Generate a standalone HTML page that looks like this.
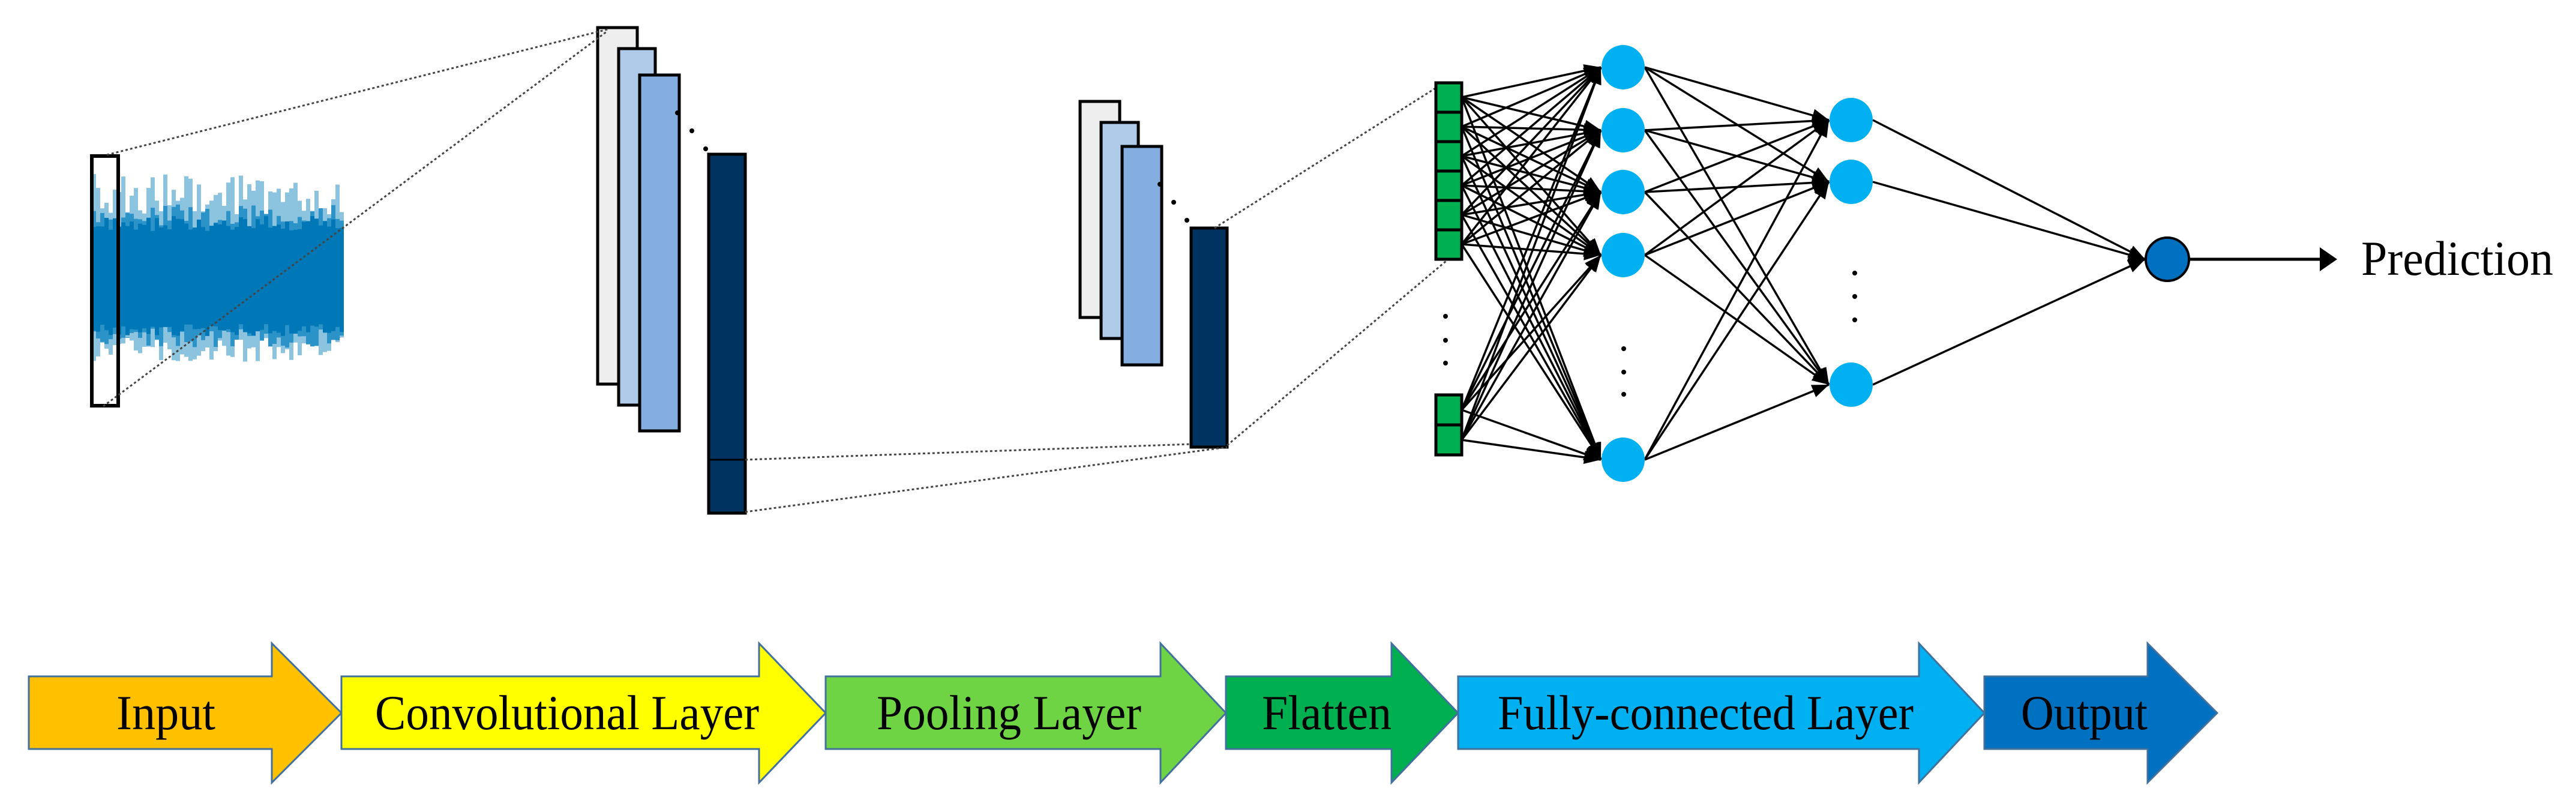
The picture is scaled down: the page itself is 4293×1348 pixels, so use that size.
<!DOCTYPE html>
<html><head><meta charset="utf-8"><style>
html,body{margin:0;padding:0;background:#fff;}
svg{display:block;}
text{font-family:"Liberation Serif",serif;}
</style></head><body>
<svg id="s" width="4293" height="1348" viewBox="0 0 4293 1348" xmlns="http://www.w3.org/2000/svg">
<rect x="153" y="260" width="44" height="416" fill="#fff"/>
<g id="sig"></g>
<rect x="153" y="260" width="44" height="416" fill="none" stroke="#000" stroke-width="6"/>
<rect x="996" y="46" width="66" height="594" fill="#eeeeee" stroke="#000" stroke-width="5"/>
<rect x="1031" y="81" width="61" height="594" fill="#b0cbea" stroke="#000" stroke-width="5"/>
<rect x="1066" y="125" width="66" height="593" fill="#84aedf" stroke="#000" stroke-width="5"/>
<circle cx="1129" cy="188" r="4"/><circle cx="1153" cy="218" r="4"/><circle cx="1176" cy="248" r="4"/>
<rect x="1181" y="257" width="61" height="598" fill="#003360" stroke="#000" stroke-width="5"/>
<line x1="1181" y1="766" x2="1242" y2="766" stroke="#000" stroke-width="3"/>
<rect x="1800" y="169" width="66" height="360" fill="#eeeeee" stroke="#000" stroke-width="5"/>
<rect x="1835" y="204" width="62" height="360" fill="#b0cbea" stroke="#000" stroke-width="5"/>
<rect x="1870" y="244" width="66" height="364" fill="#84aedf" stroke="#000" stroke-width="5"/>
<circle cx="1933" cy="307" r="4"/><circle cx="1956" cy="337" r="4"/><circle cx="1978" cy="367" r="4"/>
<rect x="1985" y="380" width="60" height="365" fill="#003360" stroke="#000" stroke-width="5"/>
<g stroke="#444" stroke-width="3" stroke-dasharray="4 4" fill="none">
<line x1="178" y1="258" x2="1016" y2="48"/>
<line x1="172" y1="677" x2="1012" y2="52"/>
<line x1="1242" y1="766" x2="1985" y2="740"/>
<line x1="1242" y1="853" x2="2045" y2="745"/>
<line x1="2024" y1="380" x2="2400" y2="142"/>
<line x1="2045" y1="742" x2="2410" y2="435"/>
</g>
<g id="flat" fill="#00b050" stroke="#000" stroke-width="5"></g>
<g fill="#000">
<circle cx="2409" cy="527" r="4"/><circle cx="2409" cy="567" r="4"/><circle cx="2409" cy="605" r="4"/>
<circle cx="2706" cy="581" r="4"/><circle cx="2706" cy="620" r="4"/><circle cx="2706" cy="657" r="4"/>
<circle cx="3091" cy="455" r="4"/><circle cx="3091" cy="494" r="4"/><circle cx="3091" cy="533" r="4"/>
</g>
<g id="conn" stroke="#000" stroke-width="3.5"></g>
<g id="heads" fill="#000"></g>
<g id="nodes" fill="#00b0f0"></g>
<ellipse cx="3612" cy="432" rx="36" ry="36" fill="#0070c0" stroke="#000" stroke-width="4"/>
<line x1="3648" y1="432" x2="3870" y2="432" stroke="#000" stroke-width="5"/>
<polygon points="3866,412 3895,432 3866,452" fill="#000"/>
<text x="3935" y="458" font-size="82" textLength="320" lengthAdjust="spacingAndGlyphs">Prediction</text>
<g id="arrows" stroke="#41719c" stroke-width="3"></g>
</svg>
<script>
var NS="http://www.w3.org/2000/svg";
function el(p,t,a){var e=document.createElementNS(NS,t);for(var k in a)e.setAttribute(k,a[k]);p.appendChild(e);return e;}
var seed=7;function rnd(){seed=(seed*16807)%2147483647;return seed/2147483647;}
var sig=document.getElementById('sig');
el(sig,'rect',{x:153,y:357,width:414,height:206,fill:'#0077b6'});
for(var x=153;x<567;x+=7){
 var t1=290+rnd()*70,b1=560+rnd()*45;
 el(sig,'rect',{x:x,y:t1,width:7,height:b1-t1,fill:'#8cc4e0'});
 var t2=340+rnd()*40,b2=545+rnd()*35;
 el(sig,'rect',{x:x,y:t2,width:7,height:b2-t2,fill:'#2b93c8'});
 var t3=360+rnd()*25,b3=540+rnd()*20;
 el(sig,'rect',{x:x,y:t3,width:7,height:b3-t3,fill:'#0077b6'});
}
var flat=document.getElementById('flat');
var cells=[];
for(var i=0;i<6;i++){el(flat,'rect',{x:2393,y:138+i*49,width:43,height:49});cells.push(138+i*49+24);}
for(var i=0;i<2;i++){el(flat,'rect',{x:2393,y:658+i*50,width:43,height:50});cells.push(658+i*50+25);}
var f1=[112,217,320,425,766],f2=[200,303,641];
var conn=document.getElementById('conn'),heads=document.getElementById('heads'),nodes=document.getElementById('nodes');
function arrow(x1,y1,x2,y2){
 el(conn,'line',{x1:x1,y1:y1,x2:x2,y2:y2});
 var dx=x2-x1,dy=y2-y1,L=Math.sqrt(dx*dx+dy*dy);dx/=L;dy/=L;
 var bx=x2-dx*28,by=y2-dy*28,px=-dy*11,py=dx*11;
 el(heads,'polygon',{points:x2+','+y2+' '+(bx+px)+','+(by+py)+' '+(bx-px)+','+(by-py)});
}
cells.forEach(function(cy){f1.forEach(function(ny){arrow(2436,cy,2668,ny);});});
f1.forEach(function(a){f2.forEach(function(b){arrow(2741,a,3048,b);});});
f2.forEach(function(b){arrow(3121,b,3575,432);});
f1.forEach(function(y){el(nodes,'ellipse',{cx:2705,cy:y,rx:36,ry:37});});
f2.forEach(function(y){el(nodes,'ellipse',{cx:3085,cy:y,rx:36,ry:37});});
var A=[["Input",48,453,569,"#ffc000",194,165],["Convolutional Layer",569,1265,1376,"#ffff00",625,640],["Pooling Layer",1376,1934,2043,"#6fd443",1461,441],["Flatten",2043,2319,2430,"#00b050",2103,216],["Fully-connected Layer",2430,3198,3307,"#00b0f0",2496,693],["Output",3307,3579,3695,"#0070c0",3368,211]];
var ar=document.getElementById('arrows');
A.forEach(function(a){
 var t=1127,b=1248,ht=1072,hb=1304,m=1188;
 el(ar,'polygon',{points:a[1]+','+t+' '+a[2]+','+t+' '+a[2]+','+ht+' '+a[3]+','+m+' '+a[2]+','+hb+' '+a[2]+','+b+' '+a[1]+','+b,fill:a[4]});
});
A.forEach(function(a){
 var tx=el(document.getElementById('s'),'text',{x:a[5],y:1215,'font-size':82,textLength:a[6],lengthAdjust:'spacingAndGlyphs',fill:'#000'});
 tx.textContent=a[0];
});
</script>
</body></html>
